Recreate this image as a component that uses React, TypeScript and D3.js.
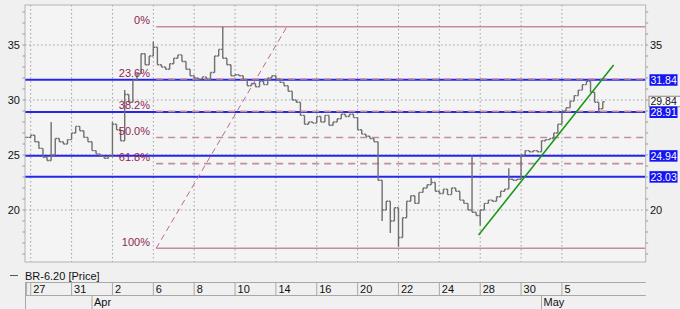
import React from 'react';
import * as d3 from 'd3';

// ---- data ----
const dayLabels = ["27", "31", "2", "6", "8", "10", "14", "16", "20", "22", "24", "28", "30", "5"];
const dayPos = [0, 2, 4, 6, 8, 10, 12, 14, 16, 18, 20, 22, 24, 26];
const monthLabels = ["Apr", "May"];
const monthPos = [3, 25];
const yTicks = [20, 25, 30, 35];
const yTicksRight = [20, 35];

// intraday closes, 5 bars per trading day starting at day -0.2
const closes = [
  26.6, 26.8, 26.2, 25.6, 24.8, 24.5, 25.0, 26.5, 26.2, 26.0,
  26.4, 27.0, 27.6, 27.2, 26.6, 26.2, 25.4, 25.1, 24.9, 24.7,
  24.9, 27.8, 27.3, 26.3, 30.5, 29.8, 31.8, 32.4, 34.2, 33.2,
  34.0, 34.8, 33.2, 33.0, 32.8, 33.3, 33.8, 34.1, 33.5, 32.8,
  32.2, 32.0, 31.9, 32.1, 31.9, 32.5, 34.0, 34.6, 33.8, 33.2,
  32.2, 32.3, 32.2, 31.8, 31.3, 31.5, 31.2, 31.7, 31.4, 32.0,
  32.2, 31.9, 31.6, 31.3, 30.8, 30.0, 29.8, 28.6, 27.8, 28.0,
  27.9, 28.5, 28.0, 28.6, 27.7, 28.0, 28.3, 28.7, 28.5, 28.7,
  28.4, 27.3, 26.9, 26.7, 26.5, 26.2, 22.7, 20.0, 20.8, 19.0,
  20.2, 17.5, 19.3, 20.8, 21.3, 20.6, 21.6, 22.0, 22.3, 22.5,
  21.7, 21.5, 21.9, 21.4, 22.0, 21.7, 20.9, 20.6, 20.0, 19.8,
  19.5, 20.0, 20.6, 20.9, 20.8, 21.2, 21.7, 21.9, 22.8, 22.7,
  22.8, 25.0, 25.4, 25.3, 25.4, 25.3, 26.3, 26.4, 26.5, 27.0,
  27.8, 29.0, 29.3, 29.9, 30.4, 30.9, 31.4, 31.7, 30.7, 29.8,
  29.2, 29.84,
];
const spikeIndex = [6, 21, 24, 24, 31, 48, 87, 89, 91, 99, 109, 111, 118, 140];
const spikeValue = [28.0, 28.0, 28.2, 30.9, 35.3, 36.66, 19.0, 17.9, 16.66, 23.0, 24.94, 18.6, 23.8, 28.8];

const levelValues = [31.84, 28.91, 24.94, 23.03];
const lastPrice = 29.84;

const fibHigh = 36.66;
const fibLow = 16.52;
const fibStartDay = 6.14;
const fibEndDay = 12.54;
const fibRatios = [0, 23.6, 38.2, 50, 61.8, 100];

const trendStart = [21.92, 17.73];
const trendEnd = [28.53, 33.18];

const seriesName = "BR-6.20 [Price]";

// ---- layout ----
const W = 680, H = 309;
const L = 25, R = 645.7, T = 5, B = 262;
const FONT = "'Liberation Sans', Arial, sans-serif";
const BLUE = "#2626e8";
const FIB = "#c48ca0";
const FIBTXT = "#8e1f55";

export default function App() {
  const x = d3.scaleLinear().domain([-0.28, 30.1]).range([L, R]);
  const y = d3.scaleLinear().domain([20, 35]).range([210, 45]);
  const barT = (i: number) => -0.2 + i / 5;

  const minorTicks = d3.range(16, 39);

  const bars = closes.map((c, i) => {
    const o = i > 0 ? closes[i - 1] : c;
    let hi = Math.max(o, c), lo = Math.min(o, c);
    spikeIndex.forEach((si, k) => {
      if (si === i) { hi = Math.max(hi, spikeValue[k]); lo = Math.min(lo, spikeValue[k]); }
    });
    const xx = x(barT(i));
    return (
      <g key={i} stroke="#707070" strokeWidth={1.4}>
        <line x1={xx} x2={xx} y1={y(hi)} y2={y(lo)} />
        <line x1={xx - 1.8} x2={xx} y1={y(o)} y2={y(o)} />
        <line x1={xx} x2={xx + 1.8} y1={y(c)} y2={y(c)} />
      </g>
    );
  });

  const fibLevel = (r: number) => fibHigh - (fibHigh - fibLow) * r / 100;

  return (
    <svg width={W} height={H} style={{ position: 'fixed', left: 0, top: 0, background: '#f0f0f0' }} fontFamily={FONT}>
      <rect x={0} y={0} width={W} height={H} fill="#f0f0f0" />
      <defs>
        <clipPath id="plot"><rect x={L} y={T} width={R - L} height={B - T} /></clipPath>
      </defs>
      <rect x={L} y={T} width={R - L} height={B - T} fill="#f4f4f4" />
      {/* grid */}
      {yTicks.map(v => (
        <line key={'g' + v} x1={L} x2={R} y1={y(v)} y2={y(v)} stroke="#a0a0a0" strokeDasharray="1.5,2.5" />
      ))}
      {dayPos.map((d, i) => (
        <line key={'v' + i} x1={x(d)} x2={x(d)} y1={T} y2={B} stroke="#a0a0a0" strokeDasharray="1.5,2.5" />
      ))}
      <g clipPath="url(#plot)">
        {/* blue levels */}
        {levelValues.map(v => (
          <line key={'b' + v} x1={L} x2={R} y1={y(v)} y2={y(v)} stroke={BLUE} strokeWidth={2} />
        ))}
        {/* fib */}
        {fibRatios.map(r => {
          const solid = r === 0 || r === 100;
          const v = fibLevel(r);
          return (
            <line key={'f' + r} x1={x(fibStartDay)} x2={R} y1={y(v)} y2={y(v)}
              stroke={FIB} strokeWidth={solid ? 1.5 : 1.6} strokeDasharray={solid ? undefined : "7,5"} />
          );
        })}
        <line x1={x(fibStartDay)} y1={y(fibLow)} x2={x(fibEndDay)} y2={y(fibHigh)}
          stroke="#b86a8c" strokeWidth={1} strokeDasharray="6,4" />
        {bars}
        <line x1={x(trendStart[0])} y1={y(trendStart[1])} x2={x(trendEnd[0])} y2={y(trendEnd[1])}
          stroke="#169616" strokeWidth={1.5} />
      </g>
      {fibRatios.map(r => (
        <text key={'ft' + r} x={150} y={y(fibLevel(r)) - 2.5} textAnchor="end" fontSize={11} fill={FIBTXT}>
          {r === 0 ? "0%" : r === 100 ? "100%" : r.toFixed(1) + "%"}
        </text>
      ))}
      {/* frame */}
      <rect x={L} y={T} width={R - L} height={B - T} fill="none" stroke="#b4b4b4" />
      {/* minor ticks */}
      {minorTicks.map(v => (
        <g key={'m' + v} stroke="#999">
          <line x1={L - 2.5} x2={L} y1={y(v)} y2={y(v)} />
          <line x1={R} x2={R + 2.5} y1={y(v)} y2={y(v)} />
        </g>
      ))}
      {yTicks.map(v => (
        <text key={'yl' + v} x={20} y={y(v) + 4} textAnchor="end" fontSize={11} fill="#111">{v}</text>
      ))}
      {yTicksRight.map(v => (
        <text key={'yr' + v} x={650} y={y(v) + 4} fontSize={11} fill="#111">{v}</text>
      ))}
      <g>
        <rect x={649} y={y(lastPrice) - 5.5} width={32} height={10.5} fill="#fafafa" stroke="#888" />
        <text x={650.5} y={y(lastPrice) + 3} fontSize={10.5} fill="#111">{lastPrice.toFixed(2)}</text>
      </g>
      {levelValues.map(v => (
        <g key={'lb' + v}>
          <rect x={649.5} y={y(v) - 5.5} width={28} height={11.5} fill="#1414f5" />
          <text x={650.5} y={y(v) + 4.5} fontSize={10.5} fill="#fff">{v.toFixed(2)}</text>
        </g>
      ))}
      {/* legend */}
      <line x1={10} x2={18} y1={275.5} y2={275.5} stroke="#555" />
      <text x={25} y={279.5} fontSize={11} fill="#111">{seriesName}</text>
      {/* date axis */}
      <line x1={L} x2={R} y1={282.5} y2={282.5} stroke="#a8a8a8" />
      <line x1={L} x2={R} y1={295.5} y2={295.5} stroke="#a8a8a8" />
      <line x1={L + 0.5} x2={L + 0.5} y1={282.5} y2={309} stroke="#a8a8a8" />
      <line x1={x(-0.2)} x2={x(-0.2)} y1={282.5} y2={295.5} stroke="#a8a8a8" />
      {dayPos.map((d, i) => (
        <g key={'dl' + i}>
          <line x1={x(d)} x2={x(d)} y1={282.5} y2={295.5} stroke="#a8a8a8" />
          <text x={x(d) + 2.5} y={292.5} fontSize={11} fill="#111">{dayLabels[i]}</text>
        </g>
      ))}
      {monthPos.map((d, i) => (
        <g key={'ml' + i}>
          <line x1={x(d)} x2={x(d)} y1={295.5} y2={309} stroke="#a8a8a8" />
          <text x={x(d) + 2} y={306} fontSize={11} fill="#111">{monthLabels[i]}</text>
        </g>
      ))}
    </svg>
  );
}
